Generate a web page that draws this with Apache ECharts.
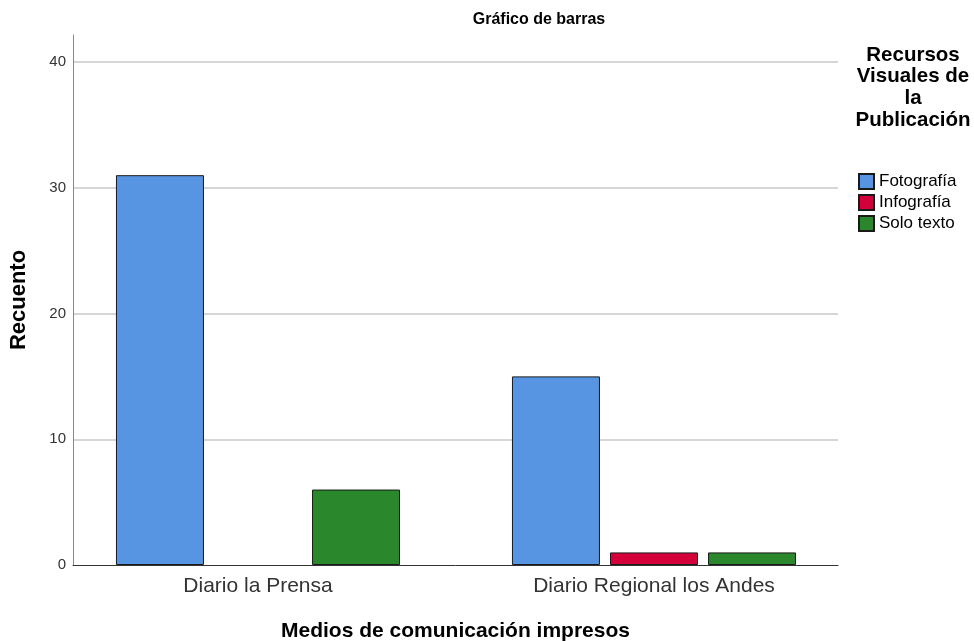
<!DOCTYPE html>
<html>
<head>
<meta charset="utf-8">
<script src="https://cdn.jsdelivr.net/npm/echarts@6/dist/echarts.min.js"></script>
<style>
  html, body { margin: 0; padding: 0; background: #fff; }
  #chart { width: 974px; height: 641px; }
</style>
</head>
<body>
<div id="chart"></div>
<script>
// datos del gráfico
var categorias = ['Diario la Prensa', 'Diario Regional los Andes'];
var fotografia = [31, 15];
var infografia = [null, 1];   // sin barra para la Prensa (0)
var soloTexto = [6, 1];
var nombresSerie = ['Fotografía', 'Infografía', 'Solo texto'];
var coloresSerie = ['#5795e3', '#d3003a', '#2a872b'];

var myChart = echarts.init(document.getElementById('chart'));
var fuente = 'Liberation Sans, Arial, sans-serif';

function serie(i, datos) {
    return {
        name: nombresSerie[i],
        type: 'bar',
        xAxisIndex: 2,
        yAxisIndex: 2,
        data: datos,
        barWidth: 88,
        barGap: '11.4%',
        itemStyle: { color: coloresSerie[i], borderColor: '#1a1a1a', borderWidth: 1 }
    };
}

var option = {
    animation: false,
    backgroundColor: '#fff',
    title: [
        { text: 'Gráfico de barras', left: 534, top: 7, textAlign: 'center',
          textStyle: { fontFamily: fuente, fontSize: 16, fontWeight: 'bold', color: '#000' } },
        { text: 'Recursos\nVisuales de\nla\nPublicación', left: 908, top: 39, textAlign: 'center',
          textStyle: { fontFamily: fuente, fontSize: 20.5, fontWeight: 'bold', color: '#000', lineHeight: 21.7, align: 'center' } }
    ],
    legend: {
        orient: 'vertical',
        left: 858, top: 173, padding: 0,
        itemWidth: 15, itemHeight: 15, itemGap: 4,
        icon: 'rect',
        data: nombresSerie,
        textStyle: { fontFamily: fuente, fontSize: 17, color: '#000' }
    },
    grid: [
        // linea de ejes
        { left: 73, right: 136, top: 35, bottom: 76, outerBoundsMode: 'none' },
        // rejilla y etiquetas del eje y
        { left: 73, right: 136, top: 62, bottom: 76, outerBoundsMode: 'none' },
        // barras
        { left: 60, right: 122, top: 62, bottom: 76, outerBoundsMode: 'none' }
    ],
    xAxis: [
        { type: 'category', gridIndex: 0, data: categorias,
          axisLine: { lineStyle: { color: '#333', width: 1 } },
          axisTick: { show: false }, axisLabel: { show: false },
          name: 'Medios de comunicación impresos', nameLocation: 'middle', nameGap: 56,
          nameTextStyle: { fontFamily: fuente, fontSize: 21, fontWeight: 'bold', color: '#000' } },
        { type: 'category', gridIndex: 1, data: categorias, show: false },
        { type: 'category', gridIndex: 2, data: categorias,
          axisLine: { show: false }, axisTick: { show: false },
          axisLabel: { fontFamily: fuente, fontSize: 21, color: '#333', margin: 11 } }
    ],
    yAxis: [
        { type: 'value', gridIndex: 0, min: 0, max: 42, interval: 42,
          axisLine: { show: true, lineStyle: { color: '#888', width: 1 } },
          axisTick: { show: false }, axisLabel: { show: false },
          splitLine: { show: false },
          name: 'Recuento', nameLocation: 'middle', nameGap: 43, nameRotate: 90,
          nameTextStyle: { fontFamily: fuente, fontSize: 22, fontWeight: 'bold', color: '#000' } },
        { type: 'value', gridIndex: 1, min: 0, max: 40, interval: 10,
          axisLine: { show: false }, axisTick: { show: false },
          axisLabel: { fontFamily: fuente, fontSize: 15, color: '#333', margin: 7 },
          splitLine: { showMinLine: false, lineStyle: { color: '#c8c8c8', width: 1.5 } } },
        { type: 'value', gridIndex: 2, min: 0, max: 40, interval: 10, show: false,
          splitLine: { show: false } }
    ],
    series: [
        serie(0, fotografia),
        serie(1, infografia),
        serie(2, soloTexto)
    ]
};

myChart.setOption(option);
</script>
</body>
</html>
